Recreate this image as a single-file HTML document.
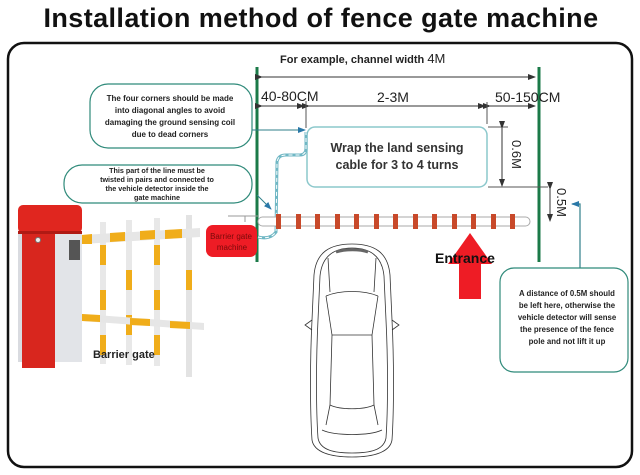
<!DOCTYPE html>
<html><head><meta charset="utf-8"><style>
html,body{margin:0;padding:0;background:#fff;}
svg{display:block;font-family:"Liberation Sans",sans-serif;}
</style></head><body>
<svg width="640" height="475" viewBox="0 0 640 475" xmlns="http://www.w3.org/2000/svg">
<defs>
<marker id="ah" markerWidth="8" markerHeight="8" refX="7" refY="4" orient="auto" markerUnits="userSpaceOnUse"><path d="M0,1 L8,4 L0,7 Z" fill="#333"/></marker>
<marker id="ab" markerWidth="8" markerHeight="8" refX="7" refY="4" orient="auto" markerUnits="userSpaceOnUse"><path d="M0,1 L8,4 L0,7 Z" fill="#2a78a8"/></marker>
</defs>
<text x="321" y="27" text-anchor="middle" font-size="27" font-weight="bold" fill="#111" letter-spacing="0.4">Installation method of fence gate machine</text>
<rect x="8" y="43" width="624" height="424" rx="16" fill="none" stroke="#111" stroke-width="2.5"/>

<line x1="257" y1="67" x2="257" y2="262" stroke="#1b7a48" stroke-width="3"/>
<line x1="539" y1="67" x2="539" y2="262" stroke="#1b7a48" stroke-width="3"/>

<text x="280" y="63" font-size="11" font-weight="bold" fill="#222">For example, channel width <tspan font-weight="normal" font-size="13">4M</tspan></text>
<line x1="262" y1="77" x2="535" y2="77" stroke="#333" stroke-width="1" marker-end="url(#ah)" marker-start="url(#ah)"/>
<text x="261" y="101" font-size="14" fill="#222">40-80CM</text>
<text x="377" y="102" font-size="14" fill="#222">2-3M</text>
<text x="495" y="102" font-size="14" fill="#222">50-150CM</text>
<line x1="262" y1="106" x2="304" y2="106" stroke="#333" marker-start="url(#ah)" marker-end="url(#ah)"/>
<line x1="309" y1="106" x2="485" y2="106" stroke="#333" marker-start="url(#ah)" marker-end="url(#ah)"/>
<line x1="490" y1="106" x2="535" y2="106" stroke="#333" marker-start="url(#ah)" marker-end="url(#ah)"/>
<line x1="306" y1="101" x2="306" y2="128" stroke="#555"/>
<line x1="487" y1="102" x2="487" y2="124" stroke="#555"/>

<rect x="307" y="127" width="180" height="60" rx="8" fill="none" stroke="#8cc8cc" stroke-width="1.5"/>
<text x="397" y="152" text-anchor="middle" font-size="12.5" font-weight="bold" fill="#333">Wrap the land sensing</text>
<text x="397" y="169" text-anchor="middle" font-size="12.5" font-weight="bold" fill="#333">cable for 3 to 4 turns</text>

<line x1="488" y1="127" x2="508" y2="127" stroke="#555"/>
<line x1="488" y1="187" x2="548" y2="187" stroke="#555"/>
<line x1="502" y1="128" x2="502" y2="186" stroke="#333" marker-start="url(#ah)" marker-end="url(#ah)"/>
<text x="512" y="140" font-size="13" fill="#222" transform="rotate(90 512 140)">0.6M</text>
<line x1="550" y1="189" x2="550" y2="221" stroke="#333" marker-start="url(#ah)" marker-end="url(#ah)"/>
<text x="557" y="188" font-size="13" fill="#222" transform="rotate(90 557 188)">0.5M</text>

<polyline points="580,268 580,204 572,204" fill="none" stroke="#2f7f8a" stroke-width="1.2" marker-end="url(#ab)"/>

<rect x="90" y="84" width="162" height="64" rx="18" fill="#fff" stroke="#2f8a7a" stroke-width="1.2"/>
<g font-size="8" font-weight="bold" fill="#222" text-anchor="middle">
<text x="170" y="101">The four corners should be made</text>
<text x="170" y="113">into diagonal angles to avoid</text>
<text x="170" y="125">damaging the ground sensing coil</text>
<text x="170" y="137">due to dead corners</text>
</g>
<line x1="252" y1="130" x2="305" y2="130" stroke="#2f7f8a" stroke-width="1" marker-end="url(#ab)"/>

<rect x="64" y="165" width="188" height="38" rx="18" fill="#fff" stroke="#2f8a7a" stroke-width="1.2"/>
<g font-size="7.2" font-weight="bold" fill="#222" text-anchor="middle">
<text x="157" y="173">This part of the line must be</text>
<text x="157" y="182">twisted in pairs and connected to</text>
<text x="157" y="191">the vehicle detector inside the</text>
<text x="157" y="200">gate machine</text>
</g>
<line x1="257" y1="195" x2="271" y2="209" stroke="#2f7f8a" stroke-width="1" marker-end="url(#ab)"/>

<path d="M258,237 Q270,240 276,232 L277,162 Q278,155 286,155 L300,155 Q306,155 306,148 L306,132" fill="none" stroke="#6fb7c4" stroke-width="3"/>
<path d="M258,237 Q270,240 276,232 L277,162 Q278,155 286,155 L300,155 Q306,155 306,148 L306,132" fill="none" stroke="#fff" stroke-width="1" stroke-dasharray="4 3"/>

<line x1="228" y1="216" x2="258" y2="216" stroke="#999"/>
<line x1="245" y1="216" x2="245" y2="222" stroke="#999"/>
<rect x="258" y="217" width="272" height="9" rx="4.5" fill="#fff" stroke="#aaa" stroke-width="1"/>
<g fill="#c8492a">
<rect x="276" y="214" width="5" height="15"/><rect x="296" y="214" width="5" height="15"/><rect x="315" y="214" width="5" height="15"/><rect x="335" y="214" width="5" height="15"/><rect x="354" y="214" width="5" height="15"/><rect x="374" y="214" width="5" height="15"/><rect x="393" y="214" width="5" height="15"/><rect x="413" y="214" width="5" height="15"/><rect x="432" y="214" width="5" height="15"/><rect x="452" y="214" width="5" height="15"/><rect x="471" y="214" width="5" height="15"/><rect x="491" y="214" width="5" height="15"/><rect x="510" y="214" width="5" height="15"/>
</g>

<rect x="206" y="225" width="51" height="32" rx="7" fill="#ee1c25"/>
<text x="231" y="239" text-anchor="middle" font-size="8" fill="#7a0a0a">Barrier gate</text>
<text x="232" y="250" text-anchor="middle" font-size="8" fill="#7a0a0a">machine</text>

<rect x="18" y="205" width="64" height="28" rx="5" fill="#e0261f"/>
<rect x="18" y="231" width="64" height="3" fill="#b01a14"/>
<rect x="18" y="234" width="64" height="128" fill="#d9dbe0"/>
<rect x="22" y="234" width="33" height="134" fill="#d8261e"/>
<rect x="55" y="234" width="27" height="128" fill="#e2e4e8"/>
<circle cx="38" cy="240" r="2.5" fill="#eee" stroke="#777"/>
<rect x="69" y="240" width="11" height="20" fill="#555"/>
<g>
<rect x="100" y="222" width="6" height="142" fill="#e8e8e8"/>
<rect x="126" y="220" width="6" height="145" fill="#e8e8e8"/>
<rect x="154" y="218" width="6" height="148" fill="#e8e8e8"/>
<rect x="186" y="215" width="6" height="162" fill="#e3e3e3"/>
<g fill="#f0ad1a">
<rect x="100" y="245" width="6" height="20"/><rect x="100" y="290" width="6" height="20"/><rect x="100" y="335" width="6" height="20"/>
<rect x="126" y="270" width="6" height="20"/><rect x="126" y="315" width="6" height="20"/>
<rect x="154" y="245" width="6" height="20"/><rect x="154" y="290" width="6" height="20"/><rect x="154" y="335" width="6" height="20"/>
<rect x="186" y="270" width="6" height="20"/>
</g>
<polygon points="82,235 200,228 200,237 82,244" fill="#e6e6e6"/>
<polygon points="82,235 92,234 92,244 82,244" fill="#f0ad1a"/>
<polygon points="110,233 125,232 125,241 110,242" fill="#f0ad1a"/>
<polygon points="140,231 155,230 155,239 140,240" fill="#f0ad1a"/>
<polygon points="165,230 182,229 182,238 165,239" fill="#f0ad1a"/>
<polygon points="82,314 204,323 204,330 82,321" fill="#e6e6e6"/>
<polygon points="82,314 100,315 100,322 82,321" fill="#f0ad1a"/>
<polygon points="130,318 150,319 150,326 130,325" fill="#f0ad1a"/>
<polygon points="170,321 190,322 190,329 170,328" fill="#f0ad1a"/>
</g>
<text x="93" y="358" font-size="11" font-weight="bold" fill="#222">Barrier gate</text>

<g fill="none" stroke="#333" stroke-width="0.8">
<path d="M352,244 C330,244 316,252 314,275 L312,320 C310,360 310,410 312,440 C314,452 330,457 352,457 C374,457 390,452 392,440 C394,410 394,360 392,320 L390,275 C388,252 374,244 352,244 Z"/>
<path d="M352,248 C334,248 322,256 320,276 L318,320 C316,360 316,410 318,438 C320,450 334,453 352,453 C370,453 384,450 386,438 C388,410 388,360 386,320 L384,276 C382,256 370,248 352,248 Z"/>
<path d="M326,296 C340,290 364,290 378,296"/>
<path d="M326,296 L332,335 L330,405 C340,410 364,410 374,405 L372,335 L378,296"/>
<path d="M332,335 L372,335"/>
<path d="M330,405 L326,425 M374,405 L378,425"/>
<path d="M322,430 C335,436 369,436 382,430"/>
<path d="M312,320 L305,325 L312,330 M392,320 L399,325 L392,330"/>
<path d="M336,252 C345,249 360,249 368,252" stroke-width="3" stroke="#666"/>
<path d="M328,258 L330,292 M376,258 L374,292"/>
</g>

<polygon points="470,233 448,264 459,264 459,299 481,299 481,264 492,264" fill="#ee1c25"/>
<text x="435" y="263" font-size="14" font-weight="bold" fill="#111">Entrance</text>

<rect x="500" y="268" width="128" height="104" rx="14" fill="#fff" stroke="#2f8a7a" stroke-width="1.2"/>
<g font-size="7.8" font-weight="bold" fill="#222" text-anchor="middle">
<text x="567" y="296">A distance of 0.5M should</text>
<text x="567" y="308">be left here, otherwise the</text>
<text x="567" y="320">vehicle detector will sense</text>
<text x="567" y="332">the presence of the fence</text>
<text x="567" y="344">pole and not lift it up</text>
</g>
</svg>
</body></html>
